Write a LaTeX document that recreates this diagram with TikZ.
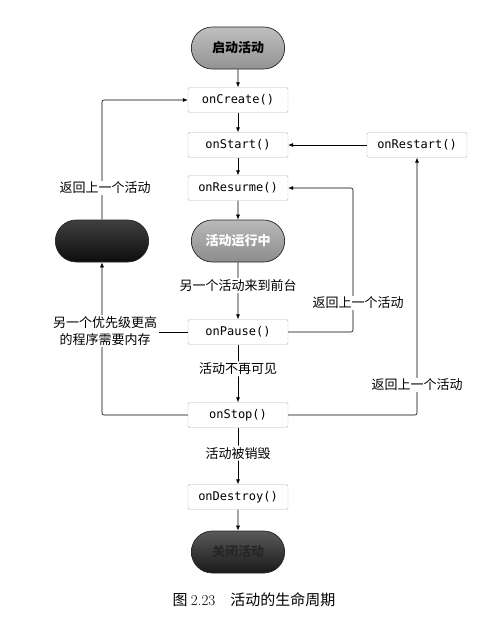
\documentclass[tikz,border=0pt]{standalone}
\usepackage{fontspec}
\setmonofont{DejaVu Sans Mono}
\newfontfamily\cjk{Noto Sans CJK SC}
\usetikzlibrary{arrows.meta, shapes.misc}
\tikzset{
  pill/.style={rounded rectangle, minimum width=100pt, minimum height=42pt, draw=black!85, line width=0.7pt, font=\cjk\bfseries\fontsize{13}{15}\selectfont},
  callbox/.style={rectangle, rounded corners=1.5pt, draw=gray!55, minimum width=100pt, minimum height=25pt, inner sep=0pt, font=\ttfamily\fontsize{12}{14}\selectfont},
  lbl/.style={fill=white, inner sep=1.5pt, font=\cjk\fontsize{13}{16}\selectfont},
  arr/.style={-{Latex[length=5pt,width=4pt]}, line width=0.6pt, rounded corners=2pt},
  ln/.style={line width=0.6pt, rounded corners=2pt}
}

\begin{document}
\begin{tikzpicture}[x=1pt, y=-1pt]
\useasboundingbox (0,0) rectangle (488,618);

\node[pill, top color=gray!50, bottom color=gray!85] (launch) at (238,48) {启动活动};
\node[callbox] (create) at (238,100) {onCreate()};
\node[callbox] (startm) at (238,145) {onStart()};
\node[callbox] (restart) at (417,145) {onRestart()};
\node[callbox] (resume) at (238,188) {onResurme()};
\node[pill, top color=gray!55, bottom color=gray!90, text=white] (running) at (238,241) {活动运行中};
\node[pill, top color=black!75, bottom color=black!95] (killed) at (102,241) {};
\node[callbox] (pause) at (238,332) {onPause()};
\node[callbox] (stop) at (238,415) {onStop()};
\node[callbox] (destroy) at (238,497) {onDestroy()};
\node[pill, top color=black!65, bottom color=black!90, text=black!85] (shut) at (238,552) {关闭活动};

\draw[arr] (launch) -- (create);
\draw[arr] (create) -- (startm);
\draw[arr] (startm) -- (resume);
\draw[arr] (resume) -- (running);
\draw[arr] (running) -- node[lbl, pos=0.41] {另一个活动来到前台} (pause);
\draw[arr] (pause) -- node[lbl, pos=0.42] {活动不再可见} (stop);
\draw[arr] (stop) -- node[lbl, pos=0.45] {活动被销毁} (destroy);
\draw[arr] (destroy) -- (shut);

\draw[arr] (restart) -- (startm);
\draw[arr] (pause.east) -| (353,188) -- (resume.east);
\draw[arr] (stop.east) -| (restart.south);
\draw[arr] (stop.west) -| (killed.south);
\draw[ln] (pause.west) -- (102,332);
\draw[arr] (killed.north) |- (create.west);

\node[lbl] (backa) at (105,188) {返回上一个活动};
\node[lbl] (backb) at (358,303) {返回上一个活动};
\node[lbl] (backc) at (417,385) {返回上一个活动};
\node[lbl, align=center, font=\cjk\fontsize{13}{17}\selectfont] (memory) at (105,331) {另一个优先级更高\\的程序需要内存};

\node[font=\cjk\fontsize{15}{18}\selectfont] (caption) at (254,600) {图 {\rmfamily 2.23}\quad 活动的生命周期};
\end{tikzpicture}
\end{document}
